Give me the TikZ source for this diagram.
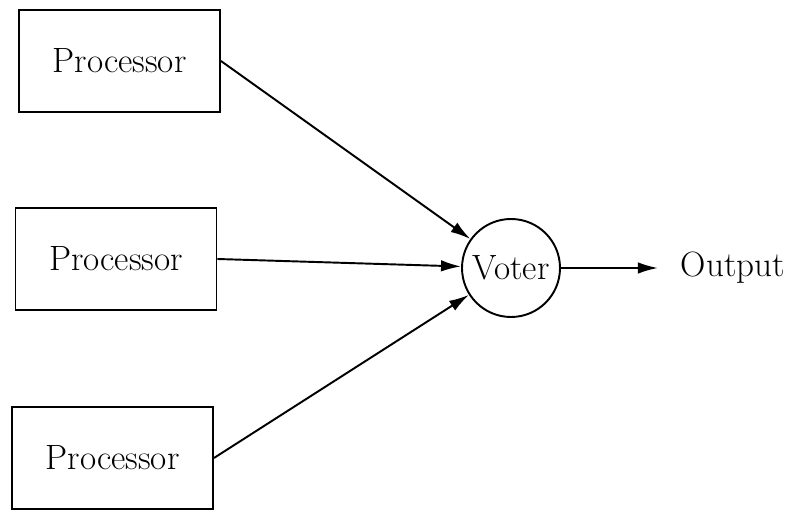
\documentclass[tikz,border=0pt]{standalone}
\usepackage{tikz}
\usetikzlibrary{arrows.meta,positioning}
\begin{document}
\begin{tikzpicture}[font=\fontsize{20}{24}\selectfont,line width=1.1pt,box/.style={draw,minimum width=4.02cm,minimum height=2.04cm},arr/.style={-{Latex[length=4mm,width=2.3mm]}}]
\useasboundingbox (0,0) rectangle (15.76,10.22);
\node[box] (proc1) at (2.39,9.0) {Processor};
\node[box] (proc2) at (2.32,5.04) {Processor};
\node[box] (proc3) at (2.25,1.06) {Processor};
\node[draw,circle,minimum size=1.96cm,inner sep=0pt] (voter) at (10.22,4.86) {Voter};
\node[right=2.38cm of voter,inner sep=0pt] (out) {Output};
\draw[arr] (proc1.east)--(voter);\draw[arr] (proc2.east)--(voter);\draw[arr] (proc3.east)--(voter);
\draw[arr,shorten >=0.44cm] (voter)--(out);
\end{tikzpicture}
\end{document}
